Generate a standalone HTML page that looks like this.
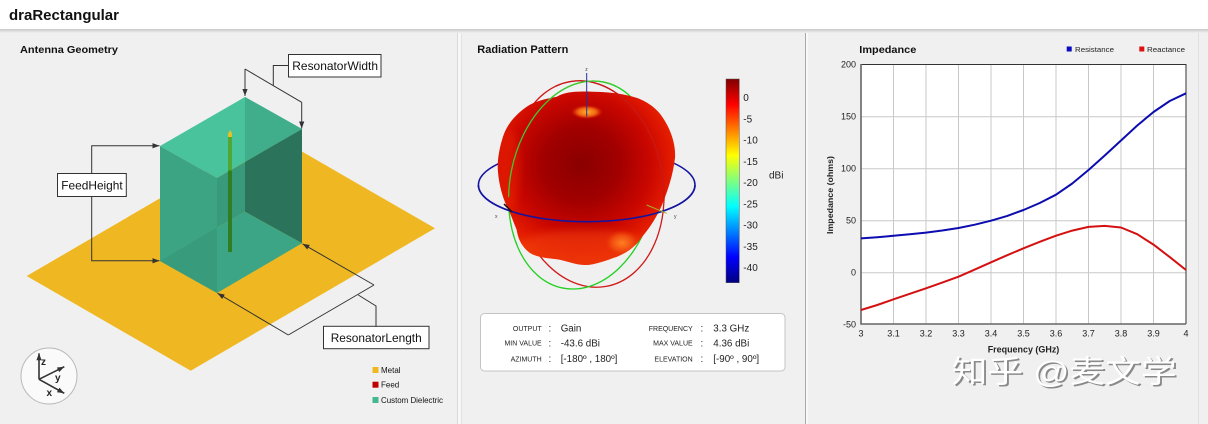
<!DOCTYPE html>
<html><head><meta charset="utf-8"><style>
html,body{margin:0;padding:0;width:1208px;height:424px;overflow:hidden;background:#f0f0f0}
svg{display:block}
text{font-family:"Liberation Sans","Noto Sans CJK SC",sans-serif}
</style></head><body>
<svg width="1208" height="424" viewBox="0 0 1208 424" xmlns="http://www.w3.org/2000/svg">
<defs>
<marker id="ah" viewBox="0 0 8 6" refX="8" refY="3" markerWidth="7" markerHeight="6" orient="auto" markerUnits="userSpaceOnUse"><path d="M0,0 L8,3 L0,6 Z" fill="#333"/></marker>
<marker id="ah2" viewBox="0 0 8 6" refX="8" refY="3" markerWidth="7" markerHeight="6" orient="auto" markerUnits="userSpaceOnUse"><path d="M0,0 L8,3 L0,6 Z" fill="#333"/></marker>
<linearGradient id="hs" x1="0" y1="0" x2="0" y2="1"><stop offset="0" stop-color="#c8c8c8"/><stop offset="1" stop-color="#f0f0f0"/></linearGradient>
<linearGradient id="jet" x1="0" y1="0" x2="0" y2="1">
<stop offset="0" stop-color="#800000"/><stop offset="0.125" stop-color="#ff0000"/><stop offset="0.375" stop-color="#ffff00"/><stop offset="0.625" stop-color="#00ffff"/><stop offset="0.875" stop-color="#0000ff"/><stop offset="1" stop-color="#000080"/></linearGradient>
<radialGradient id="sph" cx="0.47" cy="0.42" r="0.62">
<stop offset="0" stop-color="#8a0000"/><stop offset="0.35" stop-color="#a20000"/><stop offset="0.62" stop-color="#c80600"/><stop offset="0.82" stop-color="#e21a00"/><stop offset="1" stop-color="#f03400"/></radialGradient>
<radialGradient id="dim" cx="0.5" cy="0.5" r="0.5"><stop offset="0" stop-color="#ffb030"/><stop offset="0.6" stop-color="#f06010"/><stop offset="1" stop-color="#e02000" stop-opacity="0"/></radialGradient>
<radialGradient id="lobe" cx="0.5" cy="0.5" r="0.5"><stop offset="0" stop-color="#ff8020"/><stop offset="0.6" stop-color="#f04a10"/><stop offset="1" stop-color="#e83000" stop-opacity="0"/></radialGradient>
<filter id="bl" x="-0.3" y="-0.3" width="1.6" height="1.6"><feGaussianBlur stdDeviation="4"/></filter>
<clipPath id="sphc"><path d="M593,91.7 C575,91 565,92 556.7,96.7 C545,99 535,101 526.7,106.7 C515,115 506,125 502,140 C499,150 497,162 498,172 C499,185 503,200 510,213 L516.7,230 C518,238 521,246 530,253 C537,257 545,258 555,259 C565,260 575,265 585,265 C595,265 607,260 617,256.7 C628,252 636,246 642,237 C652,225 657,216 662,205 C668,190 673,175 675,158 C676,145 671,130 663,118 C657,108 645,100 633,96.7 C620,93 607,92 593,91.7 Z"/></clipPath>
<clipPath id="redfront"><polygon points="565,70 700,70 700,214 660,214"/></clipPath>
<clipPath id="greenfront"><polygon points="605,70 470,70 470,216 509,216"/></clipPath>
<clipPath id="bluefront"><rect x="470" y="185" width="240" height="60"/></clipPath>
</defs>

<!-- header -->
<rect x="0" y="0" width="1208" height="29" fill="#ffffff"/>
<rect x="0" y="29" width="1208" height="4" fill="url(#hs)"/>
<text x="9" y="20" font-size="15" font-weight="bold" fill="#111" textLength="110" lengthAdjust="spacingAndGlyphs">draRectangular</text>

<!-- separators -->
<rect x="457" y="33" width="1" height="391" fill="#dadada"/>
<rect x="458" y="33" width="3" height="391" fill="#f7f7f7"/>
<rect x="461" y="33" width="1" height="391" fill="#e2e2e2"/>
<rect x="805" y="33" width="1" height="391" fill="#a9a9a9"/>
<rect x="806" y="33" width="2" height="391" fill="#f8f8f8"/>
<rect x="1198" y="33" width="1" height="391" fill="#e0e0e0"/>

<!-- ===== LEFT PANEL ===== -->
<text x="20" y="53" font-size="10.5" font-weight="bold" fill="#111" textLength="98" lengthAdjust="spacingAndGlyphs">Antenna Geometry</text>

<polygon points="26.7,276 190.7,370.7 435,228.3 271,133.6" fill="#efb822"/>

<!-- box -->
<polygon points="245,97 302,129 217,178 160,146" fill="#48c39c"/>
<polygon points="245,97 302,129 245,162" fill="#40ad8b"/>
<polygon points="160,146 217,178 217,293 160,261" fill="#3ca483"/>
<polygon points="160,261 217,227.5 217,293" fill="#389b7c"/>
<polygon points="217,178 245,162 245,211.7 217,227.5" fill="#399a7b"/>
<polygon points="245,162 302,129 302,243.3 245,211.7" fill="#2b735b"/>
<polygon points="245,211.7 302,243.3 217,293 217,227.5" fill="#3ba585"/>
<!-- feed -->
<rect x="228" y="136" width="4" height="35" fill="#4fa833"/>
<rect x="228" y="170.5" width="4" height="81.5" fill="#2f7f22"/>
<polygon points="228,134 230,130 232,133 232,137 228,137" fill="#e2c028"/>

<!-- annotations -->
<g stroke="#333" stroke-width="1" fill="none">
<polyline points="288,65.5 273.3,65.5 273.3,85.6"/>
<line x1="245" y1="69" x2="301.7" y2="102.3"/>
<line x1="245" y1="69" x2="245" y2="96" marker-end="url(#ah)"/>
<line x1="301.7" y1="102.3" x2="301.7" y2="128.5" marker-end="url(#ah)"/>
<polyline points="91.7,173.3 91.7,145.7 159.5,145.7" marker-end="url(#ah)"/>
<polyline points="91.7,196.7 91.7,260.7 159.5,260.7" marker-end="url(#ah)"/>
<polyline points="376,326 376,306 358.3,295"/>
<line x1="374" y1="285" x2="288.3" y2="335"/>
<line x1="374" y1="285" x2="302.5" y2="243.8" marker-end="url(#ah)"/>
<line x1="288.3" y1="335" x2="217.5" y2="293.2" marker-end="url(#ah)"/>
</g>
<rect x="288.5" y="54.5" width="92.5" height="22.5" fill="#fff" stroke="#333" stroke-width="1"/>
<text x="292.3" y="70" font-size="12" fill="#111" textLength="85.7" lengthAdjust="spacingAndGlyphs">ResonatorWidth</text>
<rect x="57.5" y="173.5" width="68.8" height="23" fill="#fff" stroke="#333" stroke-width="1"/>
<text x="61.3" y="189.5" font-size="12" fill="#111" textLength="61.4" lengthAdjust="spacingAndGlyphs">FeedHeight</text>
<rect x="323.5" y="326.3" width="105.5" height="22.4" fill="#fff" stroke="#333" stroke-width="1"/>
<text x="330.7" y="342" font-size="12" fill="#111" textLength="91" lengthAdjust="spacingAndGlyphs">ResonatorLength</text>

<!-- triad -->
<circle cx="49" cy="376" r="28" fill="#fafafa" stroke="#b8b8b8" stroke-width="1"/>
<g stroke="#333" stroke-width="1.6">
<line x1="39" y1="379.3" x2="39" y2="353.3" marker-end="url(#ah2)"/>
<line x1="39" y1="379.3" x2="64.3" y2="366.7" marker-end="url(#ah2)"/>
<line x1="39" y1="379.3" x2="64.3" y2="393.3" marker-end="url(#ah2)"/>
</g>
<text x="41" y="365" font-size="10" font-family="Liberation Serif,serif" font-weight="bold" fill="#222">z</text>
<text x="55" y="381" font-size="10" font-family="Liberation Serif,serif" font-weight="bold" fill="#222">y</text>
<text x="46.5" y="396" font-size="10" font-family="Liberation Serif,serif" font-weight="bold" fill="#222">x</text>

<!-- legend -->
<rect x="372.5" y="367" width="6" height="6" fill="#efb822"/>
<text x="381" y="373" font-size="8" fill="#111">Metal</text>
<rect x="372.5" y="381.7" width="6" height="6" fill="#c00000"/>
<text x="381" y="387.7" font-size="8" fill="#111">Feed</text>
<rect x="372.5" y="397" width="6" height="6" fill="#45b891"/>
<text x="381" y="403" font-size="8" fill="#111" textLength="62" lengthAdjust="spacingAndGlyphs">Custom Dielectric</text>

<!-- ===== MIDDLE PANEL ===== -->
<text x="477.3" y="53" font-size="10.7" font-weight="bold" fill="#111" textLength="91" lengthAdjust="spacingAndGlyphs">Radiation Pattern</text>

<!-- back rings -->
<ellipse cx="586.7" cy="185" rx="108.3" ry="36.7" fill="none" stroke="#1414a0" stroke-width="1.5"/>
<ellipse cx="588" cy="184" rx="75" ry="104" transform="rotate(-10 588 184)" fill="none" stroke="#d01818" stroke-width="1.3"/>
<ellipse cx="583" cy="185" rx="73" ry="105" transform="rotate(11 583 185)" fill="none" stroke="#20d020" stroke-width="1.3"/>

<!-- pattern body -->
<path d="M593,91.7 C575,91 565,92 556.7,96.7 C545,99 535,101 526.7,106.7 C515,115 506,125 502,140 C499,150 497,162 498,172 C499,185 503,200 510,213 L516.7,230 C518,238 521,246 530,253 C537,257 545,258 555,259 C565,260 575,265 585,265 C595,265 607,260 617,256.7 C628,252 636,246 642,237 C652,225 657,216 662,205 C668,190 673,175 675,158 C676,145 671,130 663,118 C657,108 645,100 633,96.7 C620,93 607,92 593,91.7 Z" fill="url(#sph)"/>
<g clip-path="url(#sphc)">
<ellipse cx="585" cy="248" rx="70" ry="18" fill="#f04010" opacity="0.55" filter="url(#bl)"/>
<ellipse cx="622" cy="243" rx="18" ry="13" fill="url(#lobe)"/>
<ellipse cx="587" cy="112" rx="16" ry="7" fill="url(#dim)"/>
<ellipse cx="510" cy="170" rx="10" ry="40" fill="#f02a00" opacity="0.4" filter="url(#bl)"/>
</g>

<!-- front rings -->
<ellipse cx="586.7" cy="185" rx="108.3" ry="36.7" fill="none" stroke="#1414a0" stroke-width="1.6" clip-path="url(#bluefront)"/>
<ellipse cx="588" cy="184" rx="75" ry="104" transform="rotate(-10 588 184)" fill="none" stroke="#c81818" stroke-width="1.3" clip-path="url(#redfront)"/>
<ellipse cx="583" cy="185" rx="73" ry="105" transform="rotate(11 583 185)" fill="none" stroke="#40c830" stroke-width="1.3" clip-path="url(#greenfront)"/>

<!-- axes -->
<line x1="586.7" y1="73" x2="586.7" y2="116.7" stroke="#2030a0" stroke-width="1"/>
<text x="585.3" y="71" font-size="5" fill="#444">z</text>
<line x1="504" y1="204" x2="512" y2="212" stroke="#111" stroke-width="1.5"/>
<text x="495" y="218" font-size="5" fill="#444">x</text>
<line x1="646.7" y1="205" x2="666.7" y2="213.3" stroke="#a8b020" stroke-width="1"/>
<text x="674" y="218" font-size="5" fill="#444">y</text>

<!-- colorbar -->
<rect x="726" y="79" width="13.3" height="203.7" fill="url(#jet)" stroke="#555" stroke-width="0.5"/>
<g font-size="10" fill="#222">
<text x="743.3" y="101">0</text>
<text x="743.3" y="122.3">-5</text>
<text x="743.3" y="143.6">-10</text>
<text x="743.3" y="164.8">-15</text>
<text x="743.3" y="186.1">-20</text>
<text x="743.3" y="207.3">-25</text>
<text x="743.3" y="228.5">-30</text>
<text x="743.3" y="249.8">-35</text>
<text x="743.3" y="271">-40</text>
<text x="769" y="178.5">dBi</text>
</g>

<!-- info box -->
<rect x="480.5" y="313.5" width="304.5" height="57.5" rx="4" ry="4" fill="#fff" stroke="#c4c4c4" stroke-width="1"/>
<g font-size="7" fill="#222" text-anchor="end">
<text x="541.7" y="331">OUTPUT</text>
<text x="541.7" y="345.7">MIN VALUE</text>
<text x="541.7" y="361.5">AZIMUTH</text>
<text x="692.7" y="331">FREQUENCY</text>
<text x="692.7" y="345.7">MAX VALUE</text>
<text x="692.7" y="361.5">ELEVATION</text>
</g>
<g font-size="9.8" fill="#222">
<text x="548.5" y="331.5">:</text>
<text x="548.5" y="346.5">:</text>
<text x="548.5" y="362">:</text>
<text x="700.5" y="331.5">:</text>
<text x="700.5" y="346.5">:</text>
<text x="700.5" y="362">:</text>
<text x="560.7" y="331.5">Gain</text>
<text x="560.7" y="346.5">-43.6 dBi</text>
<text x="560.7" y="362">[-180º , 180º]</text>
<text x="713.3" y="331.5">3.3 GHz</text>
<text x="713.3" y="346.5">4.36 dBi</text>
<text x="713.3" y="362">[-90º , 90º]</text>
</g>

<!-- ===== RIGHT PANEL ===== -->
<text x="859.3" y="53" font-size="10.5" font-weight="bold" fill="#111" textLength="57" lengthAdjust="spacingAndGlyphs">Impedance</text>
<rect x="1066.7" y="46.5" width="5" height="5" fill="#0a0ac0"/>
<text x="1075" y="52" font-size="7.5" fill="#222" textLength="39" lengthAdjust="spacingAndGlyphs">Resistance</text>
<rect x="1139.3" y="46.5" width="5" height="5" fill="#e01010"/>
<text x="1147" y="52" font-size="7.5" fill="#222" textLength="38" lengthAdjust="spacingAndGlyphs">Reactance</text>

<rect x="861" y="64" width="325" height="260.3" fill="#fff"/>
<g stroke="#c8c8c8" stroke-width="1">
<line x1="893.5" y1="64" x2="893.5" y2="324"/>
<line x1="926" y1="64" x2="926" y2="324"/>
<line x1="958.5" y1="64" x2="958.5" y2="324"/>
<line x1="991" y1="64" x2="991" y2="324"/>
<line x1="1023.5" y1="64" x2="1023.5" y2="324"/>
<line x1="1056" y1="64" x2="1056" y2="324"/>
<line x1="1088.5" y1="64" x2="1088.5" y2="324"/>
<line x1="1121" y1="64" x2="1121" y2="324"/>
<line x1="1153.5" y1="64" x2="1153.5" y2="324"/>
<line x1="861" y1="116.7" x2="1186" y2="116.7"/>
<line x1="861" y1="168.7" x2="1186" y2="168.7"/>
<line x1="861" y1="220.7" x2="1186" y2="220.7"/>
<line x1="861" y1="272.7" x2="1186" y2="272.7"/>
</g>
<polyline points="861,64.5 1186,64.5 1186,324" fill="none" stroke="#333" stroke-width="1"/>
<polyline points="861,64 861,324 1186,324" fill="none" stroke="#666" stroke-width="1.6"/>

<polyline fill="none" stroke="#0c0cb0" stroke-width="2" stroke-linejoin="round" points="861,238.4 877.25,237.2 893.5,235.8 909.75,234.3 926,232.6 942.25,230.5 958.5,228 974.75,224.7 991,220.7 1007.25,215.9 1023.5,210 1039.75,203 1056,194.7 1072.25,183.5 1088.5,170 1104.75,155.5 1121,140.5 1137.25,125.5 1153.5,112 1169.75,101 1186,93.3"/>
<polyline fill="none" stroke="#d41010" stroke-width="2" stroke-linejoin="round" points="861,310 877.25,305 893.5,299.3 909.75,293.8 926,288.3 942.25,282.6 958.5,276.7 974.75,269.6 991,262.3 1007.25,255.2 1023.5,248.3 1039.75,241.8 1056,235.7 1072.25,230.6 1088.5,226.9 1104.75,225.9 1121,227.5 1137.25,234.2 1153.5,244.6 1169.75,257.1 1186,270"/>

<g font-size="9" fill="#222" text-anchor="end">
<text x="856" y="67.5">200</text>
<text x="856" y="119.7">150</text>
<text x="856" y="171.7">100</text>
<text x="856" y="223.7">50</text>
<text x="856" y="275.7">0</text>
<text x="856" y="327.3">-50</text>
</g>
<g font-size="9" fill="#222" text-anchor="middle">
<text x="861" y="336.5">3</text>
<text x="893.5" y="336.5">3.1</text>
<text x="926" y="336.5">3.2</text>
<text x="958.5" y="336.5">3.3</text>
<text x="991" y="336.5">3.4</text>
<text x="1023.5" y="336.5">3.5</text>
<text x="1056" y="336.5">3.6</text>
<text x="1088.5" y="336.5">3.7</text>
<text x="1121" y="336.5">3.8</text>
<text x="1153.5" y="336.5">3.9</text>
<text x="1186" y="336.5">4</text>
</g>
<text x="1023.5" y="352.5" font-size="9" font-weight="bold" fill="#222" text-anchor="middle" textLength="71.6" lengthAdjust="spacingAndGlyphs">Frequency (GHz)</text>
<text transform="translate(833 195) rotate(-90)" font-size="8" font-weight="bold" fill="#222" text-anchor="middle" textLength="78" lengthAdjust="spacingAndGlyphs">Impedance (ohms)</text>

<!-- watermark -->
<text x="953.5" y="384" font-size="31" fill="#8a8a8a" textLength="225" lengthAdjust="spacingAndGlyphs" font-family="Liberation Sans,Noto Sans CJK SC,sans-serif">知乎 @麦文学</text>
<text x="951.7" y="382.3" font-size="31" fill="#ffffff" textLength="225" lengthAdjust="spacingAndGlyphs" font-family="Liberation Sans,Noto Sans CJK SC,sans-serif">知乎 @麦文学</text>
</svg>
</body></html>
